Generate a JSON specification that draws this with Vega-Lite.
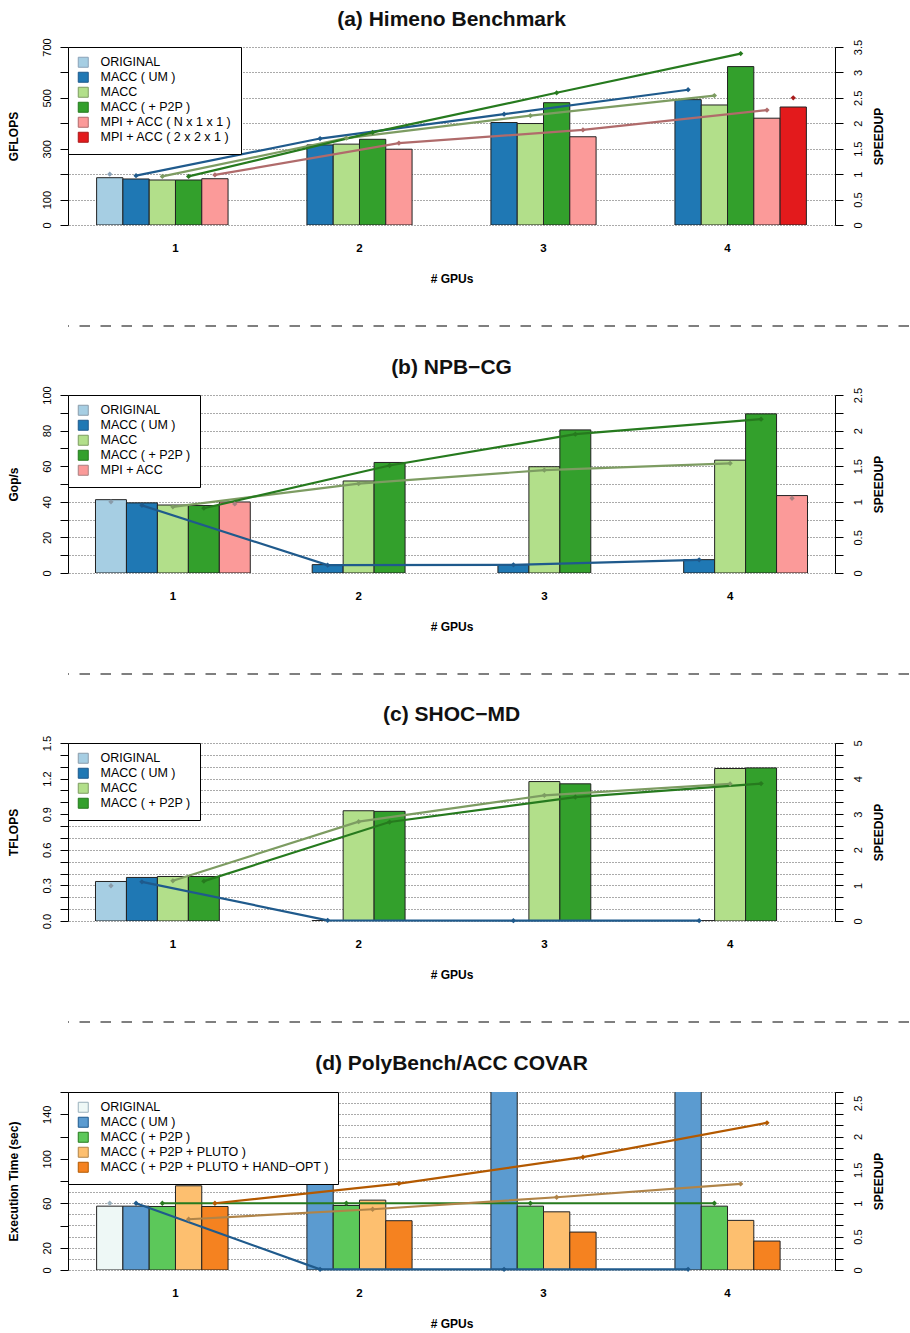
{
  "$schema": "https://vega.github.io/schema/vega-lite/v6.json",
  "padding": {"left": 6, "top": 8, "right": 0, "bottom": 0},
  "spacing": 10,
  "config": {
    "font": "Liberation Sans",
    "view": {"stroke": null},
    "axis": {"labelFont": "Liberation Sans", "titleFont": "Liberation Sans", "labelColor": "#000", "titleColor": "#000", "domainColor": "#000", "tickColor": "#000"},
    "title": {"font": "Liberation Sans", "color": "#111", "fontSize": 21, "fontWeight": "bold", "offset": 8, "frame": "group", "anchor": "middle"},
    "legend": {"orient": "top-left", "offset": 0, "padding": 9, "fillColor": "#ffffff", "strokeColor": "#000000", "strokeWidth": 1, "symbolType": "square", "symbolSize": 100, "symbolStrokeColor": "#222222", "symbolStrokeWidth": 1, "symbolOpacity": 1, "labelFont": "Liberation Sans", "labelFontSize": 12.5, "labelColor": "#000", "labelLimit": 0, "rowPadding": 0, "labelOffset": 11}
  },
  "datasets": {
    "a": [
      {"gpus": 1, "series": "ORIGINAL", "value": 186, "speedup": 1.0},
      {"gpus": 1, "series": "MACC ( UM )", "value": 181, "speedup": 0.97},
      {"gpus": 1, "series": "MACC", "value": 177, "speedup": 0.955},
      {"gpus": 1, "series": "MACC ( + P2P )", "value": 177, "speedup": 0.955},
      {"gpus": 1, "series": "MPI + ACC ( N x 1 x 1 )", "value": 182, "speedup": 0.985},
      {"gpus": 2, "series": "MACC ( UM )", "value": 315, "speedup": 1.70},
      {"gpus": 2, "series": "MACC", "value": 318, "speedup": 1.71},
      {"gpus": 2, "series": "MACC ( + P2P )", "value": 337, "speedup": 1.82},
      {"gpus": 2, "series": "MPI + ACC ( N x 1 x 1 )", "value": 298, "speedup": 1.61},
      {"gpus": 3, "series": "MACC ( UM )", "value": 403, "speedup": 2.18},
      {"gpus": 3, "series": "MACC", "value": 399, "speedup": 2.15},
      {"gpus": 3, "series": "MACC ( + P2P )", "value": 481, "speedup": 2.60},
      {"gpus": 3, "series": "MPI + ACC ( N x 1 x 1 )", "value": 347, "speedup": 1.87},
      {"gpus": 4, "series": "MACC ( UM )", "value": 493, "speedup": 2.66},
      {"gpus": 4, "series": "MACC", "value": 472, "speedup": 2.545},
      {"gpus": 4, "series": "MACC ( + P2P )", "value": 623, "speedup": 3.37},
      {"gpus": 4, "series": "MPI + ACC ( N x 1 x 1 )", "value": 420, "speedup": 2.26},
      {"gpus": 4, "series": "MPI + ACC ( 2 x 2 x 1 )", "value": 464, "speedup": 2.50}
    ],
    "b": [
      {"gpus": 1, "series": "ORIGINAL", "value": 41.2, "speedup": 1.0},
      {"gpus": 1, "series": "MACC ( UM )", "value": 39.4, "speedup": 0.95},
      {"gpus": 1, "series": "MACC", "value": 38.2, "speedup": 0.93},
      {"gpus": 1, "series": "MACC ( + P2P )", "value": 37.9, "speedup": 0.91},
      {"gpus": 1, "series": "MPI + ACC", "value": 39.9, "speedup": 0.97},
      {"gpus": 2, "series": "MACC ( UM )", "value": 4.7, "speedup": 0.11},
      {"gpus": 2, "series": "MACC", "value": 51.7, "speedup": 1.255},
      {"gpus": 2, "series": "MACC ( + P2P )", "value": 62.1, "speedup": 1.51},
      {"gpus": 3, "series": "MACC ( UM )", "value": 4.7, "speedup": 0.115},
      {"gpus": 3, "series": "MACC", "value": 59.7, "speedup": 1.445},
      {"gpus": 3, "series": "MACC ( + P2P )", "value": 80.4, "speedup": 1.95},
      {"gpus": 4, "series": "MACC ( UM )", "value": 7.5, "speedup": 0.185},
      {"gpus": 4, "series": "MACC", "value": 63.4, "speedup": 1.54},
      {"gpus": 4, "series": "MACC ( + P2P )", "value": 89.4, "speedup": 2.16},
      {"gpus": 4, "series": "MPI + ACC", "value": 43.5, "speedup": 1.05}
    ],
    "c": [
      {"gpus": 1, "series": "ORIGINAL", "value": 0.333, "speedup": 0.99},
      {"gpus": 1, "series": "MACC ( UM )", "value": 0.367, "speedup": 1.10},
      {"gpus": 1, "series": "MACC", "value": 0.375, "speedup": 1.13},
      {"gpus": 1, "series": "MACC ( + P2P )", "value": 0.375, "speedup": 1.12},
      {"gpus": 2, "series": "MACC ( UM )", "value": 0.004, "speedup": 0.02},
      {"gpus": 2, "series": "MACC", "value": 0.929, "speedup": 2.79},
      {"gpus": 2, "series": "MACC ( + P2P )", "value": 0.924, "speedup": 2.78},
      {"gpus": 3, "series": "MACC ( UM )", "value": 0.003, "speedup": 0.01},
      {"gpus": 3, "series": "MACC", "value": 1.175, "speedup": 3.53},
      {"gpus": 3, "series": "MACC ( + P2P )", "value": 1.156, "speedup": 3.48},
      {"gpus": 4, "series": "MACC ( UM )", "value": 0.003, "speedup": 0.01},
      {"gpus": 4, "series": "MACC", "value": 1.285, "speedup": 3.85},
      {"gpus": 4, "series": "MACC ( + P2P )", "value": 1.29, "speedup": 3.86}
    ],
    "d": [
      {"gpus": 1, "series": "ORIGINAL", "value": 57.4, "speedup": 1.0},
      {"gpus": 1, "series": "MACC ( UM )", "value": 57.4, "speedup": 1.0},
      {"gpus": 1, "series": "MACC ( + P2P )", "value": 57.1, "speedup": 1.0},
      {"gpus": 1, "series": "MACC ( + P2P + PLUTO )", "value": 75.7, "speedup": 0.76},
      {"gpus": 1, "series": "MACC ( + P2P + PLUTO + HAND−OPT )", "value": 57.1, "speedup": 1.0},
      {"gpus": 2, "series": "MACC ( UM )", "value": 5000, "speedup": 0.01},
      {"gpus": 2, "series": "MACC ( + P2P )", "value": 58.0, "speedup": 1.0},
      {"gpus": 2, "series": "MACC ( + P2P + PLUTO )", "value": 62.8, "speedup": 0.91},
      {"gpus": 2, "series": "MACC ( + P2P + PLUTO + HAND−OPT )", "value": 44.3, "speedup": 1.295},
      {"gpus": 3, "series": "MACC ( UM )", "value": 5000, "speedup": 0.01},
      {"gpus": 3, "series": "MACC ( + P2P )", "value": 57.4, "speedup": 1.0},
      {"gpus": 3, "series": "MACC ( + P2P + PLUTO )", "value": 52.3, "speedup": 1.09},
      {"gpus": 3, "series": "MACC ( + P2P + PLUTO + HAND−OPT )", "value": 34.1, "speedup": 1.69},
      {"gpus": 4, "series": "MACC ( UM )", "value": 5000, "speedup": 0.01},
      {"gpus": 4, "series": "MACC ( + P2P )", "value": 57.4, "speedup": 1.0},
      {"gpus": 4, "series": "MACC ( + P2P + PLUTO )", "value": 44.6, "speedup": 1.29},
      {"gpus": 4, "series": "MACC ( + P2P + PLUTO + HAND−OPT )", "value": 26.0, "speedup": 2.205}
    ],
    "sep": [{"k": 1}]
  },
  "resolve": {"scale": {"x": "independent", "xOffset": "independent", "color": "independent", "stroke": "independent", "fill": "independent"}, "legend": {"color": "independent"}},
  "vconcat": [
    {
      "width": 767, "height": 178,
      "title": {"text": "(a) Himeno Benchmark", "offset": 8},
      "data": {"name": "a"},
      "encoding": {
        "x": {"field": "gpus", "type": "ordinal", "scale": {"paddingInner": 0.142857, "paddingOuter": 0.1555},
              "axis": {"title": "# GPUs", "labelAngle": 0, "domain": false, "ticks": false, "tickSize": 0, "grid": false, "labelPadding": 17, "labelFontSize": 11.5, "labelFontWeight": "bold", "titlePadding": 20, "titleFontSize": 12, "titleFontWeight": "bold"}},
        "xOffset": {"field": "series", "type": "nominal", "scale": {"domain": ["ORIGINAL", "MACC ( UM )", "MACC", "MACC ( + P2P )", "MPI + ACC ( N x 1 x 1 )", "MPI + ACC ( 2 x 2 x 1 )"], "paddingInner": 0, "paddingOuter": 0}}
      },
      "layer": [
        {
          "mark": {"type": "bar", "stroke": "#222222", "strokeWidth": 1, "clip": true},
          "encoding": {
            "y": {"field": "value", "type": "quantitative", "scale": {"domain": [0, 700], "nice": false},
                  "axis": {"orient": "left", "title": "GFLOPS", "values": [0, 100, 200, 300, 400, 500, 600, 700], "labelExpr": "datum.value == 200 || datum.value == 400 || datum.value == 600 ? '' : datum.label", "grid": false, "labelAngle": -90, "labelAlign": "center", "labelBaseline": "bottom", "labelPadding": 8, "tickSize": 8, "labelFontSize": 11, "titlePadding": 21, "titleFontSize": 12, "titleFontWeight": "bold"}},
            "color": {"field": "series", "type": "nominal", "scale": {"domain": ["ORIGINAL", "MACC ( UM )", "MACC", "MACC ( + P2P )", "MPI + ACC ( N x 1 x 1 )", "MPI + ACC ( 2 x 2 x 1 )"], "range": ["#a6cee3", "#1f78b4", "#b2df8a", "#33a02c", "#fb9a99", "#e31a1c"]}, "legend": {"title": null}}
          }
        },
        {
          "encoding": {
            "y": {"field": "speedup", "type": "quantitative", "scale": {"domain": [0, 3.5], "nice": false},
                  "axis": {"orient": "right", "title": "SPEEDUP", "values": [0, 0.5, 1, 1.5, 2, 2.5, 3, 3.5], "labelExpr": "format(datum.value, '~g')", "grid": true, "gridDash": [1, 2], "gridColor": "#555555", "labelAngle": -90, "labelAlign": "center", "labelBaseline": "top", "labelPadding": 9, "tickSize": 8, "labelFontSize": 11, "titleAngle": 270, "titleBaseline": "top", "titlePadding": 10, "titleFontSize": 12, "titleFontWeight": "bold"}}
          },
          "layer": [
            {"mark": {"type": "line", "strokeWidth": 2.2},
             "encoding": {"stroke": {"field": "series", "type": "nominal", "scale": {"domain": ["ORIGINAL", "MACC ( UM )", "MACC", "MACC ( + P2P )", "MPI + ACC ( N x 1 x 1 )", "MPI + ACC ( 2 x 2 x 1 )"], "range": ["#8aa2b8", "#1f5a8c", "#7d9c62", "#267a1e", "#b06b6b", "#a81a1a"]}, "legend": null}}},
            {"mark": {"type": "point", "shape": "diamond", "filled": true, "size": 28, "opacity": 1},
             "encoding": {"fill": {"field": "series", "type": "nominal", "scale": {"domain": ["ORIGINAL", "MACC ( UM )", "MACC", "MACC ( + P2P )", "MPI + ACC ( N x 1 x 1 )", "MPI + ACC ( 2 x 2 x 1 )"], "range": ["#8aa2b8", "#1f5a8c", "#7d9c62", "#267a1e", "#b06b6b", "#a81a1a"]}, "legend": null}}}
          ]
        }
      ],
      "resolve": {"scale": {"y": "independent"}}
    },
    {
      "width": 904, "height": 51,
      "data": {"name": "sep"},
      "mark": {"type": "rule", "strokeDash": [10.5, 10.5], "color": "#555555", "strokeWidth": 1.3},
      "encoding": {"y": {"datum": 31, "scale": {"domain": [0, 51], "reverse": true}, "axis": null}}
    },
    {
      "width": 767, "height": 178,
      "title": {"text": "(b) NPB−CG", "offset": 8},
      "data": {"name": "b"},
      "encoding": {
        "x": {"field": "gpus", "type": "ordinal", "scale": {"paddingInner": 0.166667, "paddingOuter": 0.148},
              "axis": {"title": "# GPUs", "labelAngle": 0, "domain": false, "ticks": false, "tickSize": 0, "grid": false, "labelPadding": 17, "labelFontSize": 11.5, "labelFontWeight": "bold", "titlePadding": 20, "titleFontSize": 12, "titleFontWeight": "bold"}},
        "xOffset": {"field": "series", "type": "nominal", "scale": {"domain": ["ORIGINAL", "MACC ( UM )", "MACC", "MACC ( + P2P )", "MPI + ACC"], "paddingInner": 0, "paddingOuter": 0}}
      },
      "layer": [
        {
          "mark": {"type": "bar", "stroke": "#222222", "strokeWidth": 1, "clip": true},
          "encoding": {
            "y": {"field": "value", "type": "quantitative", "scale": {"domain": [0, 100], "nice": false},
                  "axis": {"orient": "left", "title": "Gop/s", "values": [0, 10, 20, 30, 40, 50, 60, 70, 80, 90, 100], "labelExpr": "datum.value % 20 == 0 ? datum.label : ''", "grid": false, "labelAngle": -90, "labelAlign": "center", "labelBaseline": "bottom", "labelPadding": 8, "tickSize": 8, "labelFontSize": 11, "titlePadding": 21, "titleFontSize": 12, "titleFontWeight": "bold"}},
            "color": {"field": "series", "type": "nominal", "scale": {"domain": ["ORIGINAL", "MACC ( UM )", "MACC", "MACC ( + P2P )", "MPI + ACC"], "range": ["#a6cee3", "#1f78b4", "#b2df8a", "#33a02c", "#fb9a99"]}, "legend": {"title": null}}
          }
        },
        {
          "encoding": {
            "y": {"field": "speedup", "type": "quantitative", "scale": {"domain": [0, 2.5], "nice": false},
                  "axis": {"orient": "right", "title": "SPEEDUP", "values": [0, 0.25, 0.5, 0.75, 1, 1.25, 1.5, 1.75, 2, 2.25, 2.5], "labelExpr": "(datum.value * 2) % 1 == 0 ? format(datum.value, '~g') : ''", "grid": true, "gridDash": [1, 2], "gridColor": "#555555", "labelAngle": -90, "labelAlign": "center", "labelBaseline": "top", "labelPadding": 9, "tickSize": 8, "labelFontSize": 11, "titleAngle": 270, "titleBaseline": "top", "titlePadding": 10, "titleFontSize": 12, "titleFontWeight": "bold"}}
          },
          "layer": [
            {"transform": [{"filter": "datum.series != 'MPI + ACC'"}],
             "mark": {"type": "line", "strokeWidth": 2.2},
             "encoding": {"stroke": {"field": "series", "type": "nominal", "scale": {"domain": ["ORIGINAL", "MACC ( UM )", "MACC", "MACC ( + P2P )", "MPI + ACC"], "range": ["#8a9caa", "#1f5a8c", "#7d9c62", "#267a1e", "#a88080"]}, "legend": null}}},
            {"mark": {"type": "point", "shape": "diamond", "filled": true, "size": 28, "opacity": 1},
             "encoding": {"fill": {"field": "series", "type": "nominal", "scale": {"domain": ["ORIGINAL", "MACC ( UM )", "MACC", "MACC ( + P2P )", "MPI + ACC"], "range": ["#8a9caa", "#1f5a8c", "#7d9c62", "#267a1e", "#a88080"]}, "legend": null}}}
          ]
        }
      ],
      "resolve": {"scale": {"y": "independent"}}
    },
    {
      "width": 904, "height": 51,
      "data": {"name": "sep"},
      "mark": {"type": "rule", "strokeDash": [10.5, 10.5], "color": "#555555", "strokeWidth": 1.3},
      "encoding": {"y": {"datum": 31, "scale": {"domain": [0, 51], "reverse": true}, "axis": null}}
    },
    {
      "width": 767, "height": 178,
      "title": {"text": "(c) SHOC−MD", "offset": 10},
      "data": {"name": "c"},
      "encoding": {
        "x": {"field": "gpus", "type": "ordinal", "scale": {"paddingInner": 0.166667, "paddingOuter": 0.148},
              "axis": {"title": "# GPUs", "labelAngle": 0, "domain": false, "ticks": false, "tickSize": 0, "grid": false, "labelPadding": 17, "labelFontSize": 11.5, "labelFontWeight": "bold", "titlePadding": 20, "titleFontSize": 12, "titleFontWeight": "bold"}},
        "xOffset": {"field": "series", "type": "nominal", "scale": {"domain": ["ORIGINAL", "MACC ( UM )", "MACC", "MACC ( + P2P )", "MPI + ACC"], "paddingInner": 0, "paddingOuter": 0}}
      },
      "layer": [
        {
          "mark": {"type": "bar", "stroke": "#222222", "strokeWidth": 1, "clip": true},
          "encoding": {
            "y": {"field": "value", "type": "quantitative", "scale": {"domain": [0, 1.5], "nice": false},
                  "axis": {"orient": "left", "title": "TFLOPS", "values": [0, 0.1, 0.2, 0.3, 0.4, 0.5, 0.6, 0.7, 0.8, 0.9, 1.0, 1.1, 1.2, 1.3, 1.4, 1.5], "labelExpr": "round(datum.value * 10) % 3 == 0 ? format(datum.value, '.1f') : ''", "grid": false, "labelAngle": -90, "labelAlign": "center", "labelBaseline": "bottom", "labelPadding": 8, "tickSize": 8, "labelFontSize": 11, "titlePadding": 21, "titleFontSize": 12, "titleFontWeight": "bold"}},
            "color": {"field": "series", "type": "nominal", "scale": {"domain": ["ORIGINAL", "MACC ( UM )", "MACC", "MACC ( + P2P )"], "range": ["#a6cee3", "#1f78b4", "#b2df8a", "#33a02c"]}, "legend": {"title": null}}
          }
        },
        {
          "encoding": {
            "y": {"field": "speedup", "type": "quantitative", "scale": {"domain": [0, 5], "nice": false},
                  "axis": {"orient": "right", "title": "SPEEDUP", "values": [0, 0.33333, 0.66667, 1, 1.33333, 1.66667, 2, 2.33333, 2.66667, 3, 3.33333, 3.66667, 4, 4.33333, 4.66667, 5], "labelExpr": "abs(datum.value - round(datum.value)) < 0.01 ? format(round(datum.value), 'd') : ''", "grid": true, "gridDash": [1, 2], "gridColor": "#555555", "labelAngle": -90, "labelAlign": "center", "labelBaseline": "top", "labelPadding": 9, "tickSize": 8, "labelFontSize": 11, "titleAngle": 270, "titleBaseline": "top", "titlePadding": 10, "titleFontSize": 12, "titleFontWeight": "bold"}}
          },
          "layer": [
            {"mark": {"type": "line", "strokeWidth": 2.2},
             "encoding": {"stroke": {"field": "series", "type": "nominal", "scale": {"domain": ["ORIGINAL", "MACC ( UM )", "MACC", "MACC ( + P2P )"], "range": ["#8a9caa", "#1f5a8c", "#7d9c62", "#267a1e"]}, "legend": null}}},
            {"mark": {"type": "point", "shape": "diamond", "filled": true, "size": 28, "opacity": 1},
             "encoding": {"fill": {"field": "series", "type": "nominal", "scale": {"domain": ["ORIGINAL", "MACC ( UM )", "MACC", "MACC ( + P2P )"], "range": ["#8a9caa", "#1f5a8c", "#7d9c62", "#267a1e"]}, "legend": null}}}
          ]
        }
      ],
      "resolve": {"scale": {"y": "independent"}}
    },
    {
      "width": 904, "height": 51,
      "data": {"name": "sep"},
      "mark": {"type": "rule", "strokeDash": [10.5, 10.5], "color": "#555555", "strokeWidth": 1.3},
      "encoding": {"y": {"datum": 31, "scale": {"domain": [0, 51], "reverse": true}, "axis": null}}
    },
    {
      "width": 767, "height": 178,
      "title": {"text": "(d) PolyBench/ACC COVAR", "offset": 18},
      "data": {"name": "d"},
      "encoding": {
        "x": {"field": "gpus", "type": "ordinal", "scale": {"paddingInner": 0.142857, "paddingOuter": 0.1555},
              "axis": {"title": "# GPUs", "labelAngle": 0, "domain": false, "ticks": false, "tickSize": 0, "grid": false, "labelPadding": 17, "labelFontSize": 11.5, "labelFontWeight": "bold", "titlePadding": 20, "titleFontSize": 12, "titleFontWeight": "bold"}},
        "xOffset": {"field": "series", "type": "nominal", "scale": {"domain": ["ORIGINAL", "MACC ( UM )", "MACC ( + P2P )", "MACC ( + P2P + PLUTO )", "MACC ( + P2P + PLUTO + HAND−OPT )", "EMPTY"], "paddingInner": 0, "paddingOuter": 0}}
      },
      "layer": [
        {
          "mark": {"type": "bar", "stroke": "#222222", "strokeWidth": 1, "clip": true},
          "encoding": {
            "y": {"field": "value", "type": "quantitative", "scale": {"domain": [0, 160], "nice": false},
                  "axis": {"orient": "left", "title": "Execution Time (sec)", "values": [0, 20, 40, 60, 80, 100, 120, 140, 160], "labelExpr": "indexof([0, 20, 60, 100, 140], datum.value) >= 0 ? datum.label : ''", "grid": false, "labelAngle": -90, "labelAlign": "center", "labelBaseline": "bottom", "labelPadding": 8, "tickSize": 8, "labelFontSize": 11, "titlePadding": 21, "titleFontSize": 12, "titleFontWeight": "bold"}},
            "color": {"field": "series", "type": "nominal", "scale": {"domain": ["ORIGINAL", "MACC ( UM )", "MACC ( + P2P )", "MACC ( + P2P + PLUTO )", "MACC ( + P2P + PLUTO + HAND−OPT )"], "range": ["#eef8f6", "#5b9bd0", "#5cc85a", "#fdbf6f", "#f58220"]}, "legend": {"title": null}}
          }
        },
        {
          "encoding": {
            "y": {"field": "speedup", "type": "quantitative", "scale": {"domain": [0, 2.66667], "nice": false},
                  "axis": {"orient": "right", "title": "SPEEDUP", "values": [0, 0.16667, 0.33333, 0.5, 0.66667, 0.83333, 1, 1.16667, 1.33333, 1.5, 1.66667, 1.83333, 2, 2.16667, 2.33333, 2.5, 2.66667], "labelExpr": "abs(datum.value * 2 - round(datum.value * 2)) < 0.01 ? format(round(datum.value * 2) / 2, '~g') : ''", "grid": true, "gridDash": [1, 2], "gridColor": "#555555", "labelAngle": -90, "labelAlign": "center", "labelBaseline": "top", "labelPadding": 9, "tickSize": 8, "labelFontSize": 11, "titleAngle": 270, "titleBaseline": "top", "titlePadding": 10, "titleFontSize": 12, "titleFontWeight": "bold"}}
          },
          "layer": [
            {"mark": {"type": "line", "strokeWidth": 2.2},
             "encoding": {"stroke": {"field": "series", "type": "nominal", "scale": {"domain": ["ORIGINAL", "MACC ( UM )", "MACC ( + P2P )", "MACC ( + P2P + PLUTO )", "MACC ( + P2P + PLUTO + HAND−OPT )"], "range": ["#9ab0bc", "#1f5a8c", "#267a1e", "#b08448", "#b35900"]}, "legend": null}}},
            {"mark": {"type": "point", "shape": "diamond", "filled": true, "size": 28, "opacity": 1},
             "encoding": {"fill": {"field": "series", "type": "nominal", "scale": {"domain": ["ORIGINAL", "MACC ( UM )", "MACC ( + P2P )", "MACC ( + P2P + PLUTO )", "MACC ( + P2P + PLUTO + HAND−OPT )"], "range": ["#9ab0bc", "#1f5a8c", "#267a1e", "#b08448", "#b35900"]}, "legend": null}}}
          ]
        }
      ],
      "resolve": {"scale": {"y": "independent"}}
    }
  ]
}
